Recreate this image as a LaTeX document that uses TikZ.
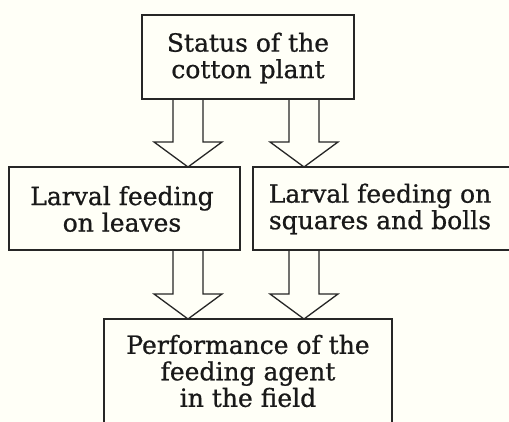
\documentclass[tikz,border=0pt]{standalone}
\usepackage{fontspec}
\setmainfont[FakeBold=0.8]{DejaVu Serif}
\usetikzlibrary{calc}
\tikzset{
  boxline/.style={draw=black!85, line width=1.3pt},
  txt/.style={align=center, font=\fontsize{25}{26.5}\selectfont, inner sep=0pt, text=black!90},
  blockarr/.style={draw=black!85, line width=1.3pt, line join=miter},
}
\newcommand{\blockarrow}[2]{%
  \draw[blockarr] ($(#1)+(-15,0)$) -- ($(#2)+(-15,25)$) -- ($(#2)+(-34,25)$) -- (#2)
    -- ($(#2)+(34,25)$) -- ($(#2)+(15,25)$) -- ($(#1)+(15,0)$);%
}
\begin{document}
\begin{tikzpicture}[x=1pt,y=1pt]
\useasboundingbox (0,0) rectangle (509,422);
\clip (0,0) rectangle (509,422);
\fill[white!97!yellow] (0,0) rectangle (509,422);
% boxes
\draw[boxline] (142,323) rectangle (354,407);
\node[txt] (status) at (248,364) {Status of the\\cotton plant};
\draw[boxline] (9,172) rectangle (240,255);
\node[txt] (leaves) at (122,213) {Larval feeding\\on leaves};
\draw[boxline] (253,172) rectangle (515,255);
\node[txt] (squares) at (380,213) {Larval feeding on\\squares and bolls};
\draw[boxline] (104,103) rectangle (392,-30);
\node[txt] (perf) at (248,51) {Performance of the\\feeding agent\\in the field};
% arrow anchors
\coordinate (s1) at (188,323); \coordinate (t1) at (188,255);
\coordinate (s2) at (304,323); \coordinate (t2) at (304,255);
\coordinate (s3) at (188,172); \coordinate (t3) at (188,103);
\coordinate (s4) at (304,172); \coordinate (t4) at (304,103);
\blockarrow{s1}{t1}
\blockarrow{s2}{t2}
\blockarrow{s3}{t3}
\blockarrow{s4}{t4}
\end{tikzpicture}
\end{document}
